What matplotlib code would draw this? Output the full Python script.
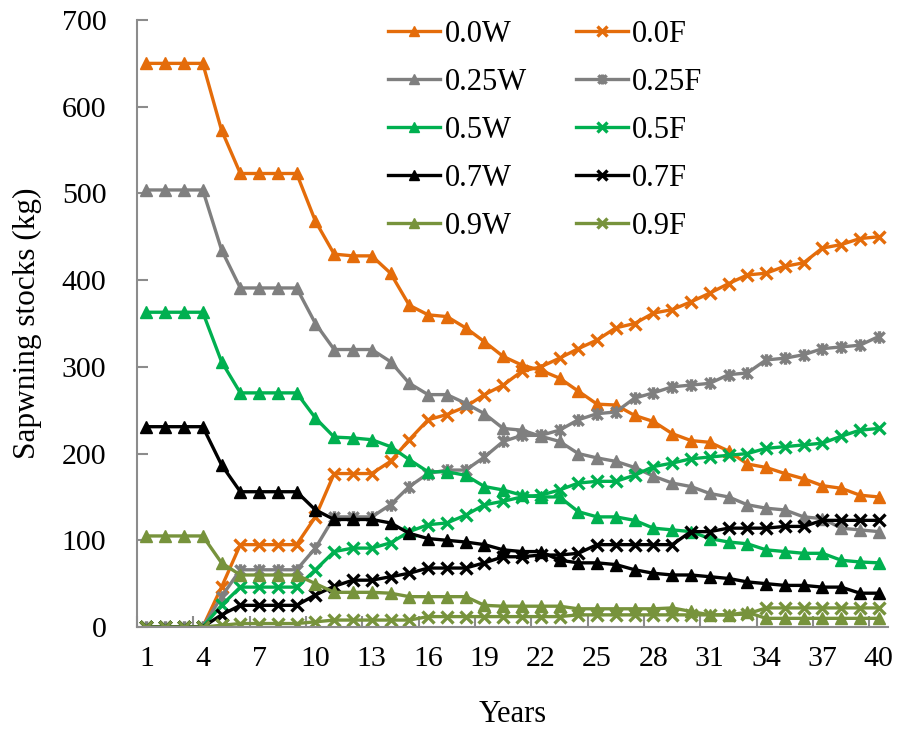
import matplotlib
matplotlib.use("Agg")
import matplotlib.pyplot as plt
from matplotlib.path import Path
import numpy as np

plt.rcParams['font.family'] = ['Liberation Serif', 'DejaVu Serif']

years = list(range(1, 41))

w00 = [650, 650, 650, 650, 573, 523, 523, 523, 523, 468, 430, 428, 428, 408, 371, 360, 358, 345, 329, 312,
       302, 296, 287, 272, 257, 256, 244, 237, 223, 215, 213, 203, 188, 184, 177, 171, 163, 160, 152, 150]
f00 = [0, 0, 0, 0, 46, 95, 95, 95, 95, 127, 177, 177, 177, 191, 216, 239, 245, 254, 268, 279,
       295, 300, 310, 321, 331, 345, 350, 362, 366, 375, 385, 396, 406, 408, 416, 420, 437, 441, 448, 450]
w25 = [504, 504, 504, 504, 435, 391, 391, 391, 391, 350, 320, 320, 320, 306, 281, 268, 268, 258, 246, 229,
       227, 220, 214, 200, 195, 191, 184, 174, 166, 162, 154, 150, 141, 137, 135, 127, 125, 114, 112, 110]
f25 = [0, 0, 0, 0, 35, 66, 66, 66, 66, 91, 127, 127, 127, 141, 162, 177, 181, 181, 196, 214,
       221, 221, 227, 239, 246, 248, 264, 270, 277, 279, 281, 291, 293, 308, 310, 314, 321, 323, 325, 335]
w50 = [363, 363, 363, 363, 306, 270, 270, 270, 270, 241, 219, 218, 216, 208, 193, 179, 179, 175, 162, 158,
       152, 150, 150, 133, 127, 127, 123, 114, 112, 110, 102, 98, 96, 89, 87, 85, 85, 77, 75, 74]
f50 = [0, 0, 0, 0, 25, 46, 46, 46, 46, 66, 87, 91, 91, 97, 110, 118, 120, 129, 141, 145,
       150, 152, 158, 166, 168, 168, 175, 185, 189, 194, 196, 198, 200, 206, 208, 210, 212, 220, 227, 229]
w70 = [231, 231, 231, 231, 187, 156, 156, 156, 156, 135, 124, 124, 124, 120, 108, 102, 100, 98, 95, 89,
       87, 87, 77, 74, 74, 72, 66, 62, 60, 60, 58, 56, 52, 50, 48, 48, 46, 46, 39, 39]
f70 = [0, 0, 0, 0, 14, 25, 25, 25, 25, 37, 47, 54, 54, 58, 62, 68, 68, 68, 74, 81,
       81, 83, 83, 85, 95, 95, 95, 95, 95, 110, 110, 114, 114, 114, 116, 116, 123, 123, 123, 123]
w90 = [105, 105, 105, 105, 74, 60, 60, 60, 60, 50, 40, 40, 40, 39, 35, 35, 35, 35, 25, 24,
       24, 24, 24, 21, 21, 21, 21, 21, 22, 18, 14, 14, 17, 10, 10, 10, 10, 10, 10, 10]
f90 = [0, 0, 0, 0, 2, 4, 4, 4, 4, 6, 8, 8, 8, 8, 8, 12, 12, 12, 12, 12,
       12, 12, 12, 14, 14, 14, 14, 14, 14, 14, 14, 14, 15, 22, 22, 22, 22, 22, 22, 22]

labels = ['0.0', '0.25', '0.5', '0.7', '0.9']
colors = ['#E46C0A', '#7F7F7F', '#00B050', '#000000', '#77933C']
w_series = [w00, w25, w50, w70, w90]
f_series = [f00, f25, f50, f70, f90]

# excel style "star" marker: an x with a vertical bar
star = Path([(-1, -1), (1, 1), (-1, 1), (1, -1), (0, -1.2), (0, 1.2)],
            [Path.MOVETO, Path.LINETO, Path.MOVETO, Path.LINETO, Path.MOVETO, Path.LINETO])

fig = plt.figure(figsize=(8.98, 7.33), dpi=100)
ax = fig.add_axes([0.1526, 0.1446, 0.8364, 0.8281])

w_handles = []
f_handles = []
for i in range(5):
    hw, = ax.plot(years, w_series[i], color=colors[i], lw=2.4, marker='^', ms=9,
                  label=labels[i] + 'W')
    fmark = star if i == 1 else 'x'
    hf, = ax.plot(years, f_series[i], color=colors[i], lw=2.4, marker=fmark, ms=9, mew=2.4,
                  label=labels[i] + 'F')
    w_handles.append(hw)
    f_handles.append(hf)

ax.set_xlim(0.5, 40.5)
ax.set_ylim(0, 700)
ax.set_yticks(range(0, 701, 100))
ax.set_xticks(range(1, 41, 3))
ax.set_xticks(np.arange(0.5, 40, 3), minor=True)

for s in ['top', 'right']:
    ax.spines[s].set_visible(False)
for s in ['left', 'bottom']:
    ax.spines[s].set_color('#8C8C8C')
    ax.spines[s].set_linewidth(1.5)

ax.tick_params(axis='y', direction='in', length=8, width=1.5, color='#8C8C8C',
               labelsize=21.5, pad=22)
ax.tick_params(axis='x', which='major', length=0, labelsize=21.5, pad=14)
ax.tick_params(axis='x', which='minor', direction='in', length=8, width=1.5, color='#8C8C8C')

ax.set_xlabel('Years', fontsize=22, labelpad=20)
ax.set_ylabel('Sapwning stocks (kg)', fontsize=22.5, labelpad=14)

ax.legend(w_handles + f_handles, [h.get_label() for h in w_handles + f_handles],
          ncol=2, loc='upper left', bbox_to_anchor=(0.334, 1.0), frameon=False,
          fontsize=22, borderpad=0, borderaxespad=0, handlelength=1.7,
          handletextpad=0.15, labelspacing=0.62, columnspacing=1.6, markerscale=0.8)

fig.savefig('out.png', dpi=100)
